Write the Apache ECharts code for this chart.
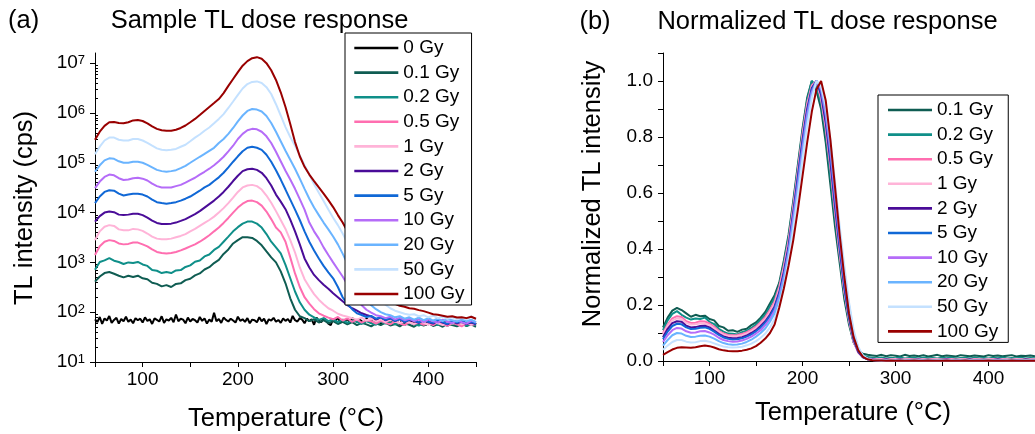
<!DOCTYPE html>
<html><head><meta charset="utf-8">
<script src="https://cdn.jsdelivr.net/npm/echarts@6.0.0/dist/echarts.min.js"></script>
<style>html,body{margin:0;padding:0;background:#fff}#c{width:1035px;height:434px}</style>
</head><body><div id="c"></div>
<script>
const T = [50,55,60,65,70,75,80,85,90,95,100,105,110,115,120,125,130,135,140,145,150,155,160,165,170,175,180,185,190,195,200,205,210,215,220,225,230,235,240,245,250,255,260,265,270,275,280,285,290,295,300,305,310,315,320,325,330,335,340,345,350,355,360,365,370,375,380,385,390,395,400,405,410,415,420,425,430,435,440,445,450];
const T0 = [50,52.5,55,57.5,60,62.5,65,67.5,70,72.5,75,77.5,80,82.5,85,87.5,90,92.5,95,97.5,100,102.5,105,107.5,110,112.5,115,117.5,120,122.5,125,127.5,130,132.5,135,137.5,140,142.5,145,147.5,150,152.5,155,157.5,160,162.5,165,167.5,170,172.5,175,177.5,180,182.5,185,187.5,190,192.5,195,197.5,200,202.5,205,207.5,210,212.5,215,217.5,220,222.5,225,227.5,230,232.5,235,237.5,240,242.5,245,247.5,250,252.5,255,257.5,260,262.5,265,267.5,270,272.5,275,277.5,280,282.5,285,287.5,290,292.5,295,297.5,300,302.5,305,307.5,310,312.5,315,317.5,320,322.5,325,327.5,330,332.5,335,337.5,340,342.5,345,347.5,350,352.5,355,357.5,360,362.5,365,367.5,370,372.5,375,377.5,380,382.5,385,387.5,390,392.5,395,397.5,400,402.5,405,407.5,410,412.5,415,417.5,420,422.5,425,427.5,430,432.5,435,437.5,440,442.5,445,447.5,450];

const names = ['0 Gy','0.1 Gy','0.2 Gy','0.5 Gy','1 Gy','2 Gy','5 Gy','10 Gy','20 Gy','50 Gy','100 Gy'];
const colors = ['#000000','#0f5c52','#0f8f89','#ff6eb0','#ffb4d8','#4a0c98','#1068d6','#b56cf8','#6ab4ff','#c4e1ff','#990000'];

// (a) TL intensity (cps)
const a0 = [72,63,80,58,75,68,84,61,70,77,59,73,66,81,64,71,60,76,69,74,62,79,67,72,58,75,70,65,83,61,72,68,77,63,90,66,74,71,60,78,65,73,69,62,80,67,75,59,71,64,97,66,73,61,78,70,65,74,68,62,81,67,72,64,76,60,71,69,63,79,66,74,58,72,68,77,64,70,61,75,67,73,62,84,69,65,76,71,60,74,66,72,56,78,68,63,75,70,59,55,73,66,79,62,71,67,74,61,77,69,64,72,66,60,75,68,63,71,65,73,58,70,66,62,74,60,69,64,57,71,63,68,59,66,61,72,58,67,62,55,69,60,65,57,68,62,59,66,54,63,60,67,56,62,58,65,53,61,59,64,57];
const a01 = [410,520,610,640,590,540,500,540,510,540,480,460,390,370,330,350,320,370,380,440,470,550,600,720,800,970,1120,1480,1820,2400,2800,3200,3200,3100,2700,2200,1660,1260,1000,660,380,190,112,83,76,66,72,62,69,60,66,58,64,57,63,55,61,57,52,60,55,62,54,58,52,60,56,51,59,54,60,53,57,51,59,55,52,58,53,57,51];
const a02 = [710,1020,1100,1220,1080,1020,930,1000,970,1020,910,850,700,680,610,640,610,690,700,810,870,1030,1090,1320,1440,1780,2050,2600,3300,4200,5100,6000,6600,6600,6000,5000,3700,2600,2000,1510,890,480,260,158,112,89,79,70,76,66,72,63,70,61,68,64,58,66,60,56,64,59,63,57,61,55,62,58,54,61,57,62,55,59,53,60,56,61,54,58,55];
const a05 = [1410,2100,2600,2800,2700,2400,2300,2350,2500,2500,2300,2100,1820,1620,1550,1510,1550,1620,1740,1900,2100,2300,2600,3000,3500,4200,5000,6200,7800,1.0e4,1.26e4,1.51e4,1.7e4,1.74e4,1.62e4,1.38e4,1.05e4,7400,5000,4000,2600,1260,600,320,200,148,115,95,85,78,72,80,68,75,64,71,62,69,66,59,67,61,57,65,60,55,63,58,62,56,60,55,64,58,53,61,57,52,60,56,58];
const a1 = [2800,4200,5200,5600,5400,4600,4400,4400,4700,4600,4300,3800,3300,3000,2900,2900,3000,3200,3400,3700,4200,4700,5400,6200,7100,8300,1.0e4,1.23e4,1.55e4,2.0e4,2.6e4,3.2e4,3.5e4,3.6e4,3.4e4,2.9e4,2.2e4,1.58e4,1.07e4,7100,4700,2800,1580,790,460,320,230,178,145,120,107,93,86,81,76,71,78,68,74,65,72,63,70,66,60,68,62,58,66,61,56,65,60,55,63,59,62,57,61,56,60];
const a2 = [6600,8500,1.0e4,1.05e4,1.02e4,9100,8900,9100,9500,9500,8900,7900,6900,6200,5900,5900,6000,6300,6800,7400,8300,9300,1.07e4,1.26e4,1.48e4,1.74e4,2.1e4,2.6e4,3.3e4,4.3e4,5.5e4,6.8e4,7.4e4,7.6e4,7.2e4,6.3e4,4.9e4,3.5e4,2.3e4,1.66e4,1.17e4,7200,4200,2300,1200,790,560,440,355,295,240,200,166,138,120,107,95,88,82,72,79,69,75,66,73,63,70,66,61,69,63,59,67,62,57,65,60,64,58,62,57];
const a5 = [1.55e4,2.1e4,2.6e4,2.8e4,2.75e4,2.4e4,2.2e4,2.3e4,2.4e4,2.4e4,2.3e4,2.1e4,1.82e4,1.62e4,1.55e4,1.51e4,1.55e4,1.62e4,1.74e4,1.9e4,2.1e4,2.4e4,2.75e4,3.2e4,3.6e4,4.3e4,5.1e4,6.3e4,8.1e4,1.05e5,1.35e5,1.7e5,2.0e5,2.1e5,2.0e5,1.82e5,1.45e5,1.05e5,7.1e4,4.6e4,2.9e4,1.82e4,1.15e4,7100,4200,2600,1740,1200,850,630,480,320,200,145,115,95,88,80,84,74,79,70,76,67,73,64,71,68,62,70,64,61,69,63,58,67,62,66,60,64,59];
const a10 = [3.1e4,4.2e4,5.2e4,5.8e4,5.6e4,4.9e4,4.5e4,4.6e4,4.9e4,5.0e4,4.8e4,4.4e4,3.8e4,3.4e4,3.2e4,3.2e4,3.2e4,3.4e4,3.6e4,4.0e4,4.5e4,5.0e4,5.8e4,6.6e4,7.6e4,8.9e4,1.07e5,1.32e5,1.7e5,2.2e5,3.0e5,3.8e5,4.5e5,4.8e5,4.7e5,4.2e5,3.4e5,2.5e5,1.66e5,1.07e5,6.9e4,4.6e4,3.0e4,1.86e4,1.15e4,6300,4200,3000,2000,1410,1000,720,520,360,250,182,138,112,98,87,83,76,81,71,78,69,74,66,72,63,71,66,62,71,65,60,69,63,59,68,63];
const a20 = [6.6e4,8.9e4,1.12e5,1.23e5,1.2e5,1.07e5,1.0e5,1.0e5,1.05e5,1.05e5,1.0e5,9.1e4,8.1e4,7.2e4,6.8e4,6.6e4,6.8e4,7.1e4,7.8e4,8.7e4,1.0e5,1.15e5,1.32e5,1.51e5,1.74e5,2.0e5,2.5e5,3.0e5,3.8e5,5.0e5,6.8e5,8.9e5,1.1e6,1.2e6,1.17e6,1.07e6,8.7e5,6.3e5,4.2e5,2.7e5,1.74e5,1.15e5,7.6e4,4.8e4,3.0e4,1.9e4,1.26e4,8900,6300,4600,3300,2300,1500,950,600,380,250,178,138,115,100,91,87,79,83,74,79,71,78,69,76,68,74,66,72,69,65,72,66,71,63];
const a50 = [1.48e5,2.1e5,2.8e5,3.2e5,3.2e5,2.9e5,2.8e5,2.8e5,3.0e5,3.0e5,2.8e5,2.5e5,2.2e5,1.95e5,1.82e5,1.78e5,1.82e5,1.9e5,2.1e5,2.3e5,2.7e5,3.2e5,3.7e5,4.4e5,5.1e5,6.2e5,7.6e5,9.5e5,1.26e6,1.7e6,2.3e6,3.1e6,3.8e6,4.2e6,4.3e6,4.0e6,3.3e6,2.4e6,1.5e6,8.9e5,5.2e5,3.3e5,2.2e5,1.41e5,8.9e4,5.8e4,3.7e4,2.5e4,1.7e4,1.15e4,7900,5600,3800,2500,1580,1000,630,420,290,220,174,141,120,107,100,93,89,91,83,87,79,85,76,81,74,79,72,78,72,83,71];
const a100 = [2.9e5,4.2e5,5.5e5,6.5e5,6.6e5,6.3e5,6.2e5,6.5e5,7.1e5,7.2e5,6.9e5,6.2e5,5.4e5,4.8e5,4.5e5,4.4e5,4.4e5,4.6e5,5.0e5,5.6e5,6.5e5,7.6e5,9.1e5,1.1e6,1.32e6,1.58e6,1.9e6,2.5e6,3.5e6,4.8e6,6.6e6,8.9e6,1.1e7,1.26e7,1.32e7,1.23e7,1.0e7,7.2e6,4.6e6,2.6e6,1.32e6,6.0e5,2.6e5,1.35e5,8.3e4,5.8e4,4.3e4,3.2e4,2.4e4,1.78e4,1.29e4,8900,6300,4200,2800,1780,1120,710,460,320,240,195,166,148,135,129,120,117,110,105,98,91,89,85,81,83,78,79,76,81,74];

// (b) normalized TL intensity
const b01 = [0.120,0.155,0.180,0.190,0.182,0.170,0.158,0.165,0.160,0.162,0.150,0.145,0.125,0.120,0.108,0.110,0.104,0.112,0.115,0.128,0.138,0.155,0.175,0.205,0.235,0.28,0.36,0.45,0.57,0.70,0.83,0.94,1.0,0.965,0.90,0.78,0.63,0.48,0.35,0.22,0.13,0.066,0.038,0.026,0.022,0.020,0.018,0.022,0.017,0.021,0.019,0.016,0.022,0.018,0.020,0.017,0.021,0.016,0.019,0.022,0.017,0.020,0.018,0.016,0.021,0.019,0.017,0.020,0.018,0.016,0.021,0.018,0.020,0.017,0.019,0.021,0.016,0.019,0.018,0.020,0.017];
const b02 = [0.110,0.145,0.168,0.178,0.165,0.155,0.148,0.152,0.150,0.155,0.140,0.132,0.115,0.105,0.098,0.097,0.095,0.103,0.108,0.118,0.130,0.148,0.165,0.195,0.225,0.27,0.35,0.44,0.56,0.69,0.82,0.93,1.0,0.98,0.92,0.81,0.66,0.51,0.37,0.24,0.14,0.068,0.034,0.020,0.014,0.012,0.010,0.013,0.009,0.012,0.010,0.013,0.009,0.011,0.012,0.009,0.013,0.010,0.011,0.009,0.012,0.010,0.013,0.009,0.011,0.012,0.009,0.012,0.010,0.011,0.009,0.012,0.010,0.013,0.009,0.011,0.010,0.012,0.009,0.011,0.010];
const b05 = [0.100,0.130,0.152,0.160,0.157,0.142,0.136,0.137,0.142,0.141,0.134,0.122,0.108,0.098,0.093,0.092,0.093,0.097,0.103,0.112,0.123,0.138,0.157,0.182,0.213,0.265,0.34,0.43,0.55,0.68,0.81,0.92,0.985,1.0,0.935,0.83,0.69,0.53,0.38,0.25,0.145,0.068,0.030,0.014,0.009,0.007,0.006,0.007,0.005,0.006,0.007,0.005,0.006,0.007,0.005,0.006,0.006,0.005,0.007,0.006,0.005,0.006,0.007,0.005,0.006,0.006,0.005,0.007,0.006,0.005,0.006,0.007,0.005,0.006,0.006,0.005,0.007,0.006,0.005,0.006,0.006];
const b1 = [0.095,0.125,0.145,0.152,0.150,0.136,0.130,0.131,0.135,0.134,0.128,0.117,0.104,0.094,0.089,0.088,0.089,0.092,0.098,0.107,0.118,0.133,0.150,0.175,0.205,0.255,0.33,0.42,0.54,0.67,0.80,0.91,0.98,1.0,0.94,0.84,0.70,0.54,0.39,0.25,0.15,0.07,0.03,0.013,0.008,0.006,0.005,0.006,0.004,0.005,0.006,0.004,0.005,0.005,0.004,0.006,0.005,0.004,0.005,0.006,0.004,0.005,0.005,0.004,0.006,0.005,0.004,0.005,0.005,0.004,0.006,0.005,0.004,0.005,0.005,0.004,0.006,0.005,0.004,0.005,0.005];
const b2 = [0.085,0.115,0.135,0.142,0.140,0.126,0.120,0.121,0.125,0.126,0.120,0.109,0.097,0.088,0.083,0.081,0.082,0.085,0.091,0.100,0.110,0.125,0.142,0.165,0.195,0.245,0.32,0.41,0.53,0.66,0.79,0.90,0.975,1.0,0.95,0.85,0.71,0.55,0.40,0.26,0.155,0.075,0.032,0.013,0.006,0.005,0.004,0.004,0.005,0.004,0.004,0.005,0.003,0.004,0.004,0.005,0.003,0.004,0.004,0.003,0.004,0.005,0.004,0.003,0.004,0.004,0.005,0.003,0.004,0.004,0.003,0.004,0.005,0.004,0.003,0.004,0.004,0.003,0.005,0.004,0.003];
const b5 = [0.078,0.105,0.125,0.133,0.131,0.120,0.114,0.115,0.119,0.120,0.115,0.105,0.093,0.084,0.079,0.077,0.078,0.081,0.087,0.095,0.106,0.120,0.137,0.16,0.19,0.24,0.31,0.40,0.52,0.65,0.78,0.89,0.97,1.0,0.96,0.87,0.73,0.57,0.41,0.27,0.16,0.08,0.035,0.014,0.006,0.004,0.003,0.003,0.004,0.003,0.003,0.004,0.003,0.003,0.002,0.003,0.004,0.003,0.003,0.002,0.003,0.003,0.004,0.003,0.002,0.003,0.003,0.004,0.003,0.003,0.002,0.003,0.003,0.004,0.003,0.003,0.002,0.003,0.003,0.003,0.003];
const b10 = [0.068,0.092,0.110,0.118,0.116,0.106,0.101,0.102,0.106,0.107,0.102,0.094,0.083,0.075,0.071,0.069,0.070,0.073,0.079,0.087,0.098,0.110,0.128,0.15,0.18,0.23,0.30,0.39,0.51,0.63,0.76,0.88,0.96,1.0,0.97,0.88,0.75,0.59,0.43,0.29,0.18,0.09,0.04,0.016,0.007,0.004,0.003,0.003,0.002,0.003,0.003,0.002,0.003,0.002,0.003,0.003,0.002,0.003,0.002,0.003,0.002,0.003,0.003,0.002,0.003,0.002,0.003,0.002,0.003,0.002,0.003,0.002,0.003,0.003,0.002,0.003,0.002,0.003,0.002,0.003,0.002];
const b20 = [0.055,0.075,0.092,0.100,0.098,0.090,0.086,0.087,0.090,0.091,0.087,0.080,0.071,0.064,0.060,0.058,0.059,0.062,0.068,0.076,0.087,0.100,0.116,0.14,0.17,0.22,0.29,0.38,0.49,0.61,0.74,0.86,0.95,1.0,0.98,0.90,0.77,0.62,0.46,0.32,0.20,0.10,0.045,0.018,0.007,0.004,0.003,0.002,0.003,0.002,0.002,0.003,0.002,0.002,0.003,0.002,0.002,0.003,0.002,0.002,0.003,0.002,0.002,0.002,0.003,0.002,0.002,0.003,0.002,0.002,0.002,0.003,0.002,0.002,0.002,0.003,0.002,0.002,0.003,0.002,0.002];
const b50 = [0.040,0.055,0.068,0.075,0.075,0.069,0.066,0.067,0.071,0.072,0.069,0.063,0.057,0.052,0.049,0.048,0.049,0.051,0.056,0.062,0.071,0.083,0.098,0.12,0.15,0.20,0.27,0.36,0.47,0.59,0.72,0.84,0.94,1.0,0.98,0.91,0.79,0.64,0.48,0.34,0.21,0.11,0.05,0.02,0.008,0.004,0.003,0.002,0.002,0.003,0.002,0.002,0.003,0.002,0.002,0.003,0.002,0.002,0.002,0.003,0.002,0.002,0.003,0.002,0.002,0.002,0.003,0.002,0.002,0.002,0.003,0.002,0.002,0.002,0.003,0.002,0.002,0.002,0.003,0.002,0.002];
const b100 = [0.022,0.032,0.041,0.047,0.049,0.048,0.047,0.049,0.053,0.055,0.053,0.048,0.042,0.038,0.036,0.035,0.035,0.037,0.040,0.045,0.053,0.065,0.080,0.10,0.13,0.19,0.26,0.34,0.43,0.54,0.66,0.78,0.89,0.97,1.0,0.93,0.79,0.62,0.45,0.30,0.17,0.085,0.038,0.015,0.006,0.003,0.002,0.002,0.001,0.002,0.001,0.002,0.001,0.001,0.002,0.001,0.001,0.002,0.001,0.001,0.001,0.002,0.001,0.001,0.001,0.002,0.001,0.001,0.001,0.001,0.002,0.001,0.001,0.001,0.001,0.002,0.001,0.001,0.001,0.001,0.001];

// ticks / labels
const xTicks = [50,100,150,200,250,300,350,400,450];
const xLabels = [100,200,300,400];
const yMajor = [10,100,1000,1e4,1e5,1e6,1e7];
const yMinor = [20,30,40,50,60,70,80,90,200,300,400,500,600,700,800,900,2000,3000,4000,5000,6000,7000,8000,9000,2e4,3e4,4e4,5e4,6e4,7e4,8e4,9e4,2e5,3e5,4e5,5e5,6e5,7e5,8e5,9e5,2e6,3e6,4e6,5e6,6e6,7e6,8e6,9e6];
const rTicks = [0,0.1,0.2,0.3,0.4,0.5,0.6,0.7,0.8,0.9,1.0,1.1];
const rLabels = [0,0.2,0.4,0.6,0.8,1.0];

const aVals = [a0,a01,a02,a05,a1,a2,a5,a10,a20,a50,a100];
const bVals = [b01,b02,b05,b1,b2,b5,b10,b20,b50,b100];

const FONT = '"Liberation Sans", Arial, Helvetica, sans-serif';
const axLine = {show:true, onZero:false, lineStyle:{color:'#000', width:1}};

function xAxis(gi){
  return {type:'value', gridIndex:gi, min:50, max:450, interval:50,
    axisLine:axLine,
    axisTick:{show:true, inside:false, length:5, customValues:xTicks, lineStyle:{color:'#000'}},
    axisLabel:{customValues:xLabels, fontSize:19, color:'#000', fontFamily:FONT, margin:8},
    splitLine:{show:false}};
}

const series = [];
aVals.forEach((v,i)=>{
  const xs = i===0 ? T0 : T;
  series.push({type:'line', name:names[i], xAxisIndex:0, yAxisIndex:0, symbol:'none', showSymbol:false,
    data: v.map((y,k)=>[xs[k], y]), lineStyle:{color:colors[i], width:2}, itemStyle:{color:colors[i]},
    animation:false, z:2});
});
bVals.forEach((v,i)=>{
  series.push({type:'line', name:names[i+1], xAxisIndex:1, yAxisIndex:2, symbol:'none', showSymbol:false,
    data: v.map((y,k)=>[T[k], y]), lineStyle:{color:colors[i+1], width:2}, itemStyle:{color:colors[i+1]},
    animation:false, z:2});
});

const legendBase = {orient:'vertical', backgroundColor:'#fff', borderColor:'#000', borderWidth:1,
  itemWidth:44, itemHeight:20, itemGap:4.6, selectedMode:false,
  textStyle:{fontSize:19, color:'#000', fontFamily:FONT, lineHeight:20},
  itemStyle:{opacity:0, borderWidth:0},
  lineStyle:{width:2.6}, z:10};

const chart = echarts.init(document.getElementById('c'), null, {renderer:'canvas'});
chart.setOption({
  animation:false,
  backgroundColor:'#fff',
  textStyle:{fontFamily:FONT},
  grid:[{left:95, top:53, width:381, height:309},
        {left:663, top:53, width:381, height:308}],
  xAxis:[xAxis(0), xAxis(1)],
  yAxis:[
    {type:'log', gridIndex:0, position:'left', logBase:10, min:10, max:1.6e7,
      axisLine:axLine,
      axisTick:{show:true, inside:false, length:5, customValues:yMajor, lineStyle:{color:'#000'}},
      axisLabel:{customValues:yMajor, fontSize:19, color:'#000', fontFamily:FONT, margin:10,
        formatter:(v)=>'10{s|'+Math.round(Math.log10(v))+'}',
        rich:{s:{fontSize:13, verticalAlign:'top', color:'#000', fontFamily:FONT}}},
      splitLine:{show:false}},
    {type:'log', gridIndex:0, position:'left', offset:0, logBase:10, min:10, max:1.6e7,
      axisLine:{show:false},
      axisTick:{show:true, inside:true, length:3, customValues:yMinor, lineStyle:{color:'#000'}},
      axisLabel:{show:false}, splitLine:{show:false}},
    {type:'value', gridIndex:1, position:'left', min:0, max:1.1, interval:0.1,
      axisLine:axLine,
      axisTick:{show:true, inside:false, length:5, customValues:rTicks, lineStyle:{color:'#000'}},
      axisLabel:{customValues:rLabels, fontSize:19, color:'#000', fontFamily:FONT, margin:10,
        formatter:(v)=>v.toFixed(1)},
      splitLine:{show:false}}
  ],
  legend:[
    Object.assign({}, legendBase, {left:345, top:33, padding:[5,7,1,8], data:names}),
    Object.assign({}, legendBase, {left:878, top:95, padding:[5,10,1,8.7], data:names.slice(1)})
  ],
  graphic:[
    {type:'text', x:8, y:21, style:{text:'(a)', font:'25.5px '+FONT, fill:'#000', textAlign:'left', textVerticalAlign:'middle'}},
    {type:'text', x:259.5, y:21, style:{text:'Sample TL dose response', font:'25.5px '+FONT, fill:'#000', textAlign:'center', textVerticalAlign:'middle'}},
    {type:'text', x:595, y:22, style:{text:'(b)', font:'25.5px '+FONT, fill:'#000', textAlign:'center', textVerticalAlign:'middle'}},
    {type:'text', x:827.5, y:22, style:{text:'Normalized TL dose response', font:'25.5px '+FONT, fill:'#000', textAlign:'center', textVerticalAlign:'middle'}},
    {type:'text', x:286, y:419, style:{text:'Temperature (°C)', font:'25.5px '+FONT, fill:'#000', textAlign:'center', textVerticalAlign:'middle'}},
    {type:'text', x:853, y:413, style:{text:'Temperature (°C)', font:'25.5px '+FONT, fill:'#000', textAlign:'center', textVerticalAlign:'middle'}},
    {type:'text', x:25, y:208, rotation:Math.PI/2, style:{text:'TL intensity (cps)', font:'25.5px '+FONT, fill:'#000', textAlign:'center', textVerticalAlign:'middle'}},
    {type:'text', x:593, y:194, rotation:Math.PI/2, style:{text:'Normalized TL intensity', font:'25.5px '+FONT, fill:'#000', textAlign:'center', textVerticalAlign:'middle'}}
  ],
  series: series
});
</script>
</body></html>
